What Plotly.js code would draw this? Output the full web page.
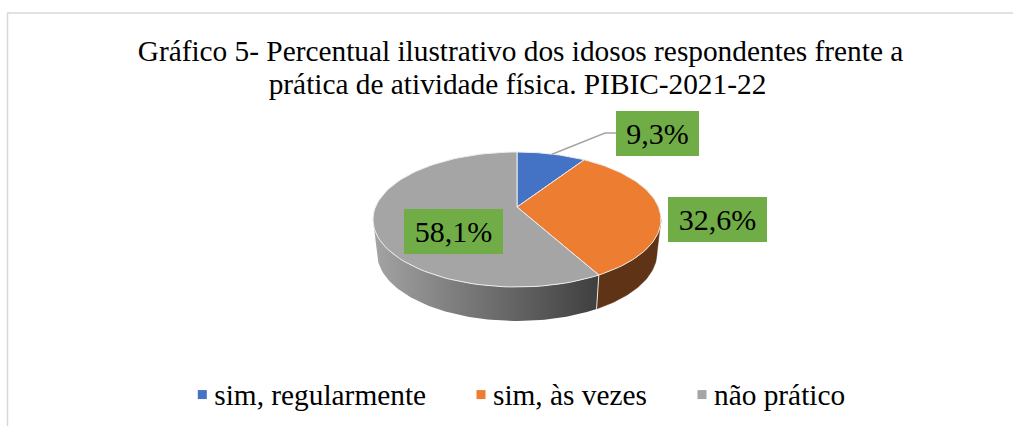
<!DOCTYPE html>
<html><head><meta charset="utf-8">
<script src="https://cdn.plot.ly/plotly-3.0.1.min.js"></script>
<style>html,body{margin:0;padding:0;background:#fff}#c{width:1013px;height:426px}</style>
</head><body><div id="c"></div>
<script>
const categories = ['sim, regularmente', 'sim, às vezes', 'não prático'];
const values = [9.3, 32.6, 58.1];
const colors = ['#4472C4', '#ED7D31', '#A5A5A5'];
const labelBoxes = [[657.5,133.5,83,45],[717.5,219.5,99,45],[453.5,231.5,99,45]];
const legendTextLeft = [214.3, 493, 714];
const titleText = 'Gráfico 5- Percentual ilustrativo dos idosos respondentes frente a<br>prática de atividade física. PIBIC-2021-22';
const FONT = '"Liberation Serif","Times New Roman",serif';

// Projected pie geometry in pixel-valued axes
const ax = 517, ay = 207, cy = 219.5, rx = 144, ry = 67.5, k = 0.464;
const bx = 517, bcy = 253, brx = 140, bry = 68;

function rim(deg) {
  const t = deg * Math.PI / 180, dx = Math.sin(t), dy = -k * Math.cos(t);
  const ox = 0, oy = ay - cy;
  const A = dx*dx/(rx*rx) + dy*dy/(ry*ry);
  const B = 2*(dx*ox/(rx*rx) + dy*oy/(ry*ry));
  const C = ox*ox/(rx*rx) + oy*oy/(ry*ry) - 1;
  const s = (-B + Math.sqrt(B*B - 4*A*C)) / (2*A);
  return [ax + s*dx, ay + s*dy];
}
function param(p) { return Math.atan2((p[0]-ax)/rx, -(p[1]-cy)/ry); }
function wedge(a0, a1) {
  const xs=[ax], ys=[ay];
  for (let i=0;i<=80;i++){ const p=rim(a0+(a1-a0)*i/80); xs.push(p[0]); ys.push(p[1]); }
  xs.push(ax); ys.push(ay);
  return [xs,ys];
}
function sidePoly(t0, t1) {
  const xs=[], ys=[];
  for (let i=0;i<=80;i++){ const t=t0+(t1-t0)*i/80; xs.push(ax+rx*Math.sin(t)); ys.push(cy-ry*Math.cos(t)); }
  for (let i=80;i>=0;i--){ const t=t0+(t1-t0)*i/80; xs.push(bx+brx*Math.sin(t)); ys.push(bcy-bry*Math.cos(t)); }
  xs.push(xs[0]); ys.push(ys[0]);
  return [xs,ys];
}

const total = values.reduce((a,b)=>a+b,0);
let acc = 0; const bounds=[0];
values.forEach(v=>{acc+=v; bounds.push(acc/total*360);});
const split = param(rim(bounds[2]));

const traces = [];
let s = sidePoly(Math.PI/2, split);
traces.push({x:s[0],y:s[1],mode:'lines',fill:'toself',fillcolor:'#5F3315',line:{color:'#5F3315',width:0.5},showlegend:false,hoverinfo:'skip'});
s = sidePoly(split, 3*Math.PI/2);
traces.push({x:s[0],y:s[1],mode:'lines',fill:'toself',line:{color:'rgba(0,0,0,0)',width:0},showlegend:false,hoverinfo:'skip',
  fillgradient:{type:'horizontal',start:375,stop:600,colorscale:[[0,'#A3A3A3'],[0.35,'#7E7E7E'],[0.7,'#5C5C5C'],[1,'#3E3E3E']]}});
traces.push({x:[rim(bounds[2])[0],bx+brx*Math.sin(split)],y:[rim(bounds[2])[1],bcy-bry*Math.cos(split)],mode:'lines',line:{color:'#E8E8E8',width:1},showlegend:false,hoverinfo:'skip'});
values.forEach((v,i)=>{
  const w = wedge(bounds[i],bounds[i+1]);
  traces.push({x:w[0],y:w[1],mode:'lines',fill:'toself',fillcolor:colors[i],line:{color:'#EDEDED',width:1},name:categories[i],showlegend:false,hovertemplate:categories[i]+'<extra></extra>'});
});
const m = rim((bounds[0]+bounds[1])/2);
traces.push({x:[m[0],605,616],y:[m[1]+0.5,133,133],mode:'lines',line:{color:'#A5A5A5',width:1.5},showlegend:false,hoverinfo:'skip'});
categories.forEach((c,i)=>{
  traces.push({x:[null],y:[null],mode:'markers',marker:{symbol:'square',size:9,color:colors[i]},name:c});
});

const fmt = v => v.toFixed(1).replace('.',',') + '%';
const annotations = values.map((v,i)=>({
  x:labelBoxes[i][0], y:labelBoxes[i][1], xref:'x', yref:'y', text:fmt(v), showarrow:false,
  width:labelBoxes[i][2], height:labelBoxes[i][3], bgcolor:'#70AD47', borderpad:0, borderwidth:0,
  align:'center', valign:'middle', font:{family:FONT,size:30,color:'#000'}
}));

const layout = {
  width:1013, height:426, margin:{l:0,r:0,t:0,b:0},
  paper_bgcolor:'#fff', plot_bgcolor:'#fff',
  xaxis:{range:[0,1013],visible:false,fixedrange:true},
  yaxis:{range:[426,0],visible:false,fixedrange:true},
  title:{text:titleText,x:520.5/1013,xanchor:'center',y:1-61/426,yanchor:'top',font:{family:FONT,size:29.33,color:'#000'}},
  showlegend:true,
  legend:{orientation:'h',x:173/1013,xanchor:'left',y:1-368/426,yanchor:'top',font:{family:FONT,size:29.33,color:'#000'},bgcolor:'rgba(0,0,0,0)',traceorder:'normal',entrywidth:215,entrywidthmode:'pixels'},
  annotations,
  shapes:[
    {type:'line',xref:'paper',yref:'paper',x0:7.5/1013,x1:7.5/1013,y0:0,y1:1-13/426,line:{color:'#D9D9D9',width:1.5}},
    {type:'line',xref:'paper',yref:'paper',x0:7/1013,x1:1,y0:1-13/426,y1:1-13/426,line:{color:'#D9D9D9',width:1.5}}
  ]
};
Plotly.newPlot('c',traces,layout,{displayModeBar:false,staticPlot:true}).then(()=>{
  const lines=document.querySelectorAll('.gtitle tspan.line');
  if(lines[1]){ lines[1].setAttribute('dy','33px'); lines[1].setAttribute('dx','-3px'); }
  document.querySelectorAll('.legend .traces').forEach((g,i)=>{
    const txt=g.querySelector('.legendtext');
    const shift=legendTextLeft[i]-txt.getBoundingClientRect().left;
    const mt=/translate\(([-\d.]+),\s*([-\d.]+)\)/.exec(g.getAttribute('transform'));
    g.setAttribute('transform','translate('+(parseFloat(mt[1])+shift)+','+mt[2]+')');
    const sym=g.querySelector('.legendsymbols');
    sym.setAttribute('transform','translate(8,1)');
  });
});
</script></body></html>
